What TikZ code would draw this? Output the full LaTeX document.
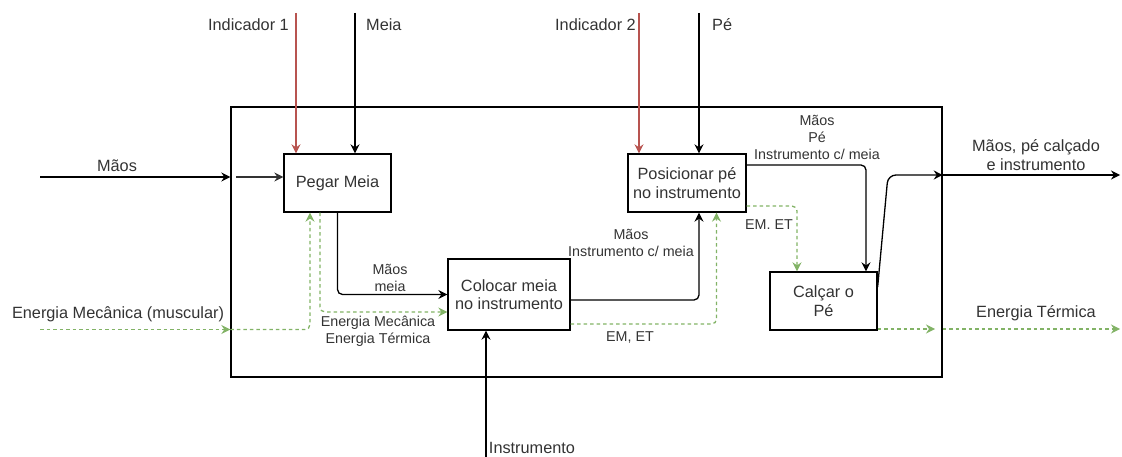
\documentclass[tikz,border=0pt]{standalone}
\usepackage{fontspec}
\setmainfont{Liberation Sans}
\usepackage{xcolor}
\usetikzlibrary{arrows.meta}
\definecolor{vermelho}{HTML}{B85450}
\definecolor{verde}{HTML}{82B366}
\definecolor{texto}{HTML}{333333}
\tikzset{processo/.style={draw,line width=1.3pt,fill=white,align=center,text=texto,
        font=\fontsize{16.3}{18.5}\selectfont,inner sep=2pt},
    rotulo/.style={text=texto,align=center,inner sep=1pt,
        font=\fontsize{16.3}{18.5}\selectfont},
    rotulopeq/.style={text=texto,align=center,inner sep=1pt,
        font=\fontsize{14.3}{17}\selectfont},
    fluxo/.style={draw,line width=1.3pt,-{Stealth[length=9pt,width=9pt,inset=3pt]},rounded corners=5pt},
    controle/.style={fluxo,draw=vermelho},
    energia/.style={fluxo,draw=verde,dash pattern=on 3.5pt off 3pt}}

\begin{document}
\begin{tikzpicture}[x=1pt,y=-1pt]
\useasboundingbox (0,0) rectangle (1122,457);
\node[draw,line width=1.4pt,minimum width=711pt,minimum height=270pt] (sistema) at (586.5,242) {};
\node[processo,minimum width=107pt,minimum height=58pt] (pegar) at (337.5,183) {Pegar Meia};
\node[processo,minimum width=118pt,minimum height=58pt] (posicionar) at (687,183) {Posicionar pé\\no instrumento};
\node[processo,minimum width=122pt,minimum height=71pt] (colocar) at (509,294.5) {Colocar meia\\no instrumento};
\node[processo,minimum width=107pt,minimum height=58pt] (calcar) at (823.5,301) {Calçar o\\Pé};

\coordinate (ind1) at (296,13);
\coordinate (meiain) at (355,13);
\coordinate (ind2) at (639,13);
\coordinate (pein) at (699,13);
\coordinate (instin) at (486,457);
\coordinate (maosin) at (40,177);
\coordinate (maosint) at (236,177);
\coordinate (emin) at (40,329.5);
\coordinate (dobra) at (888,175);
\coordinate (saida) at (1120,175);
\coordinate (etint) at (935,329);
\coordinate (etout) at (1120,329);

\draw[controle] (ind1) -- (pegar.north -| ind1);
\draw[fluxo] (meiain) -- (pegar.north -| meiain);
\draw[controle] (ind2) -- (posicionar.north -| ind2);
\draw[fluxo] (pein) -- (posicionar.north -| pein);
\draw[fluxo] (instin) -- (colocar.south -| instin);

\draw[fluxo] (maosin) -- (sistema.west |- maosin);
\draw[fluxo,draw=texto] (maosint) -- (pegar.west |- maosint);
\draw[energia] (emin) -- (sistema.west |- emin);
\draw[energia] (sistema.west |- emin) -| ([xshift=-27.5pt]pegar.south);
\draw[energia] ([xshift=-17.5pt]pegar.south) |- ([yshift=-17.5pt]colocar.west);
\draw[fluxo] (pegar.south) |- (colocar.west);

\draw[fluxo] ([yshift=-5.5pt]colocar.east) -| ([xshift=12pt]posicionar.south);
\draw[energia] ([yshift=-29.5pt]colocar.east) -| ([xshift=29.5pt]posicionar.south);
\draw[fluxo] ([yshift=18pt]posicionar.east) -| ([xshift=42.5pt]calcar.north);
\draw[energia] ([yshift=-23pt]posicionar.east) -| ([xshift=-26.5pt]calcar.north);

\draw[fluxo,rounded corners=8pt] ([yshift=14pt]calcar.east) -- (dobra) -- (sistema.east |- dobra);
\draw[fluxo] (sistema.east |- dobra) -- (saida);
\draw[energia] ([yshift=-28pt]calcar.east) -- (etint);
\draw[energia] (sistema.east |- etout) -- (etout);

\node[rotulo,anchor=east] (lind1) at (290,25) {Indicador 1};
\node[rotulo,anchor=west] (lmeia) at (365,25) {Meia};
\node[rotulo,anchor=east] (lind2) at (637,25) {Indicador 2};
\node[rotulo,anchor=west] (lpe) at (711,25) {Pé};
\node[rotulo] (lmaos) at (117,166) {Mãos};
\node[rotulo] (lenergia) at (118,314) {Energia Mecânica (muscular)};
\node[rotulo] (linst) at (532,448) {Instrumento};
\node[rotulo] (lsaida) at (1036,155) {Mãos, pé calçado\\e instrumento};
\node[rotulo] (lterm) at (1036,313) {Energia Térmica};
\node[rotulopeq] (lmaosmeia) at (390,277.5) {Mãos\\meia};
\node[rotulopeq] (lemet1) at (378,331) {Energia Mecânica\\Energia Térmica};
\node[rotulopeq] (lmaosinst) at (631,242.5) {Mãos\\Instrumento c/ meia};
\node[rotulopeq] (lemet2) at (630,337) {EM, ET};
\node[rotulopeq] (lemet3) at (769,225) {EM. ET};
\node[rotulopeq] (lmaospe) at (817,137) {Mãos\\Pé\\Instrumento c/ meia};
\end{tikzpicture}
\end{document}
